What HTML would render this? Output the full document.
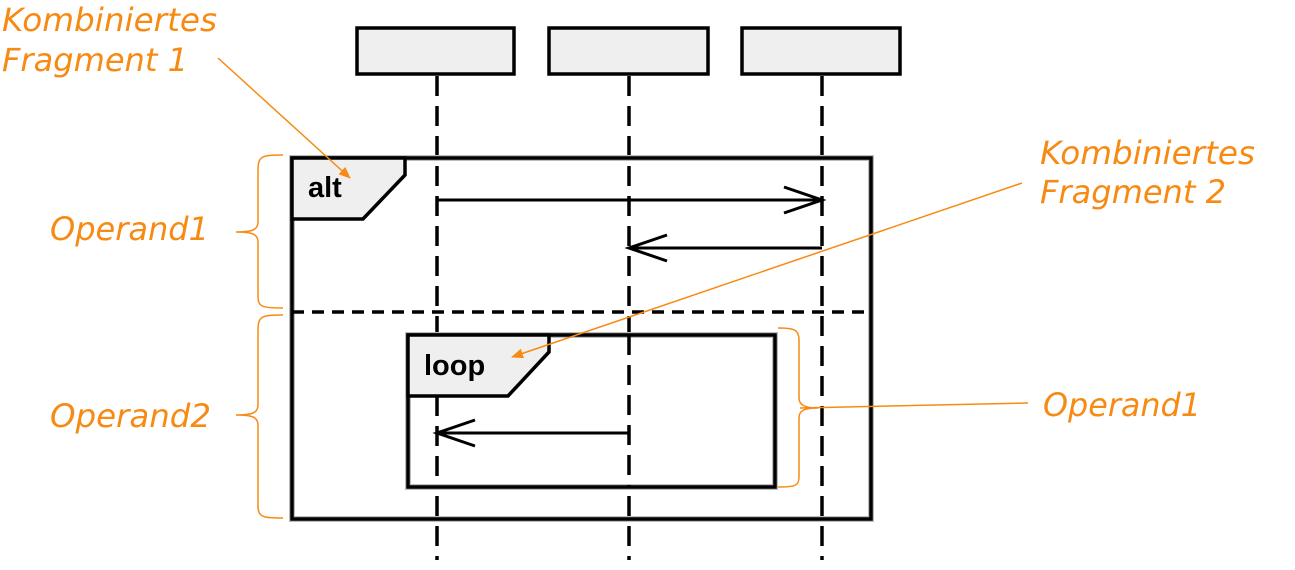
<!DOCTYPE html>
<html><head><meta charset="utf-8"><style>html,body{margin:0;padding:0;background:#fff}svg{display:block}</style></head>
<body>
<svg width="1295" height="570" viewBox="0 0 1295 570" xmlns="http://www.w3.org/2000/svg">
<defs>
<marker id="oa" markerWidth="12" markerHeight="12" refX="11" refY="6" orient="auto" markerUnits="userSpaceOnUse"><path d="M0,1 L12,6 L0,11 Z" fill="#f78a12"/></marker>
</defs>
<g fill="#efefef" stroke="#000" stroke-width="3.5">
<rect x="357" y="28" width="157" height="46"/>
<rect x="549" y="28" width="159" height="46"/>
<rect x="742" y="28" width="158" height="46"/>
</g>
<g stroke="#000" stroke-width="3.5" stroke-dasharray="20,10">
<line x1="437" y1="76" x2="437" y2="560"/>
<line x1="629" y1="76" x2="629" y2="560"/>
<line x1="822" y1="76" x2="822" y2="560"/>
</g>
<rect x="292" y="158" width="579" height="361" fill="none" stroke="#bbb" stroke-width="6"/>
<rect x="292" y="158" width="579" height="361" fill="none" stroke="#000" stroke-width="3.5"/>
<polygon points="292,158 405,158 405,175 363,219 292,219" fill="#efefef" stroke="#000" stroke-width="3.5"/>
<text x="308" y="197" font-family="Liberation Sans, sans-serif" font-weight="bold" font-size="29" fill="#000">alt</text>
<line x1="292" y1="312" x2="871" y2="312" stroke="#000" stroke-width="3.5" stroke-dasharray="12,8"/>
<rect x="408" y="335" width="367" height="152" fill="#fff" stroke="#bbb" stroke-width="6"/>
<rect x="408" y="335" width="367" height="152" fill="none" stroke="#000" stroke-width="3.5"/>
<line x1="437" y1="396" x2="437" y2="487" stroke="#000" stroke-width="3.5" stroke-dasharray="20,10"/>
<line x1="629" y1="335" x2="629" y2="487" stroke="#000" stroke-width="3.5" stroke-dasharray="20,10"/>
<polygon points="408,335 549,335 549,352 508,396 408,396" fill="#efefef" stroke="#000" stroke-width="3.5"/>
<text x="424" y="375" font-family="Liberation Sans, sans-serif" font-weight="bold" font-size="29" fill="#000">loop</text>
<g stroke="#000" stroke-width="3" fill="none">
<path d="M437,200 H822 M784,187 L822,200 L784,213"/>
<path d="M822,248 H629 M667,235 L629,248 L667,261"/>
<path d="M629,433 H437 M475,420 L437,433 L475,446"/>
</g>
<g stroke="#f78a12" stroke-width="1.5" fill="none">
<line x1="218" y1="58" x2="350" y2="178" marker-end="url(#oa)"/>
<line x1="1022" y1="183" x2="512" y2="357" marker-end="url(#oa)"/>
<line x1="1028" y1="403" x2="800" y2="408"/>
<path d="M283,155 C262,155 258,156 258,170 V222 C258,230 252,232 236,232 C252,232 258,234 258,242 V296 C258,307 262,308 283,308"/>
<path d="M283,315 C262,315 258,316 258,330 V405 C258,413 252,415 236,415 C252,415 258,417 258,425 V505 C258,517 262,518 283,518"/>
<path d="M778,328 C795,328 799,330 799,340 V398 C799,405 805,408 818,408 C805,408 799,410 799,418 V477 C799,486 795,487 778,487"/>
</g>
<g font-family="DejaVu Sans, Verdana, sans-serif" font-style="italic" font-size="32" fill="#f78a12">
<text x="2" y="31" textLength="215" lengthAdjust="spacingAndGlyphs">Kombiniertes</text>
<text x="2" y="71" textLength="186" lengthAdjust="spacingAndGlyphs">Fragment 1</text>
<text x="1040" y="164" textLength="215" lengthAdjust="spacingAndGlyphs">Kombiniertes</text>
<text x="1040" y="203" textLength="186" lengthAdjust="spacingAndGlyphs">Fragment 2</text>
<text x="50" y="240" textLength="159" lengthAdjust="spacingAndGlyphs">Operand1</text>
<text x="50" y="427" textLength="161" lengthAdjust="spacingAndGlyphs">Operand2</text>
<text x="1043" y="416" textLength="158" lengthAdjust="spacingAndGlyphs">Operand1</text>
</g>
</svg>
</body></html>
